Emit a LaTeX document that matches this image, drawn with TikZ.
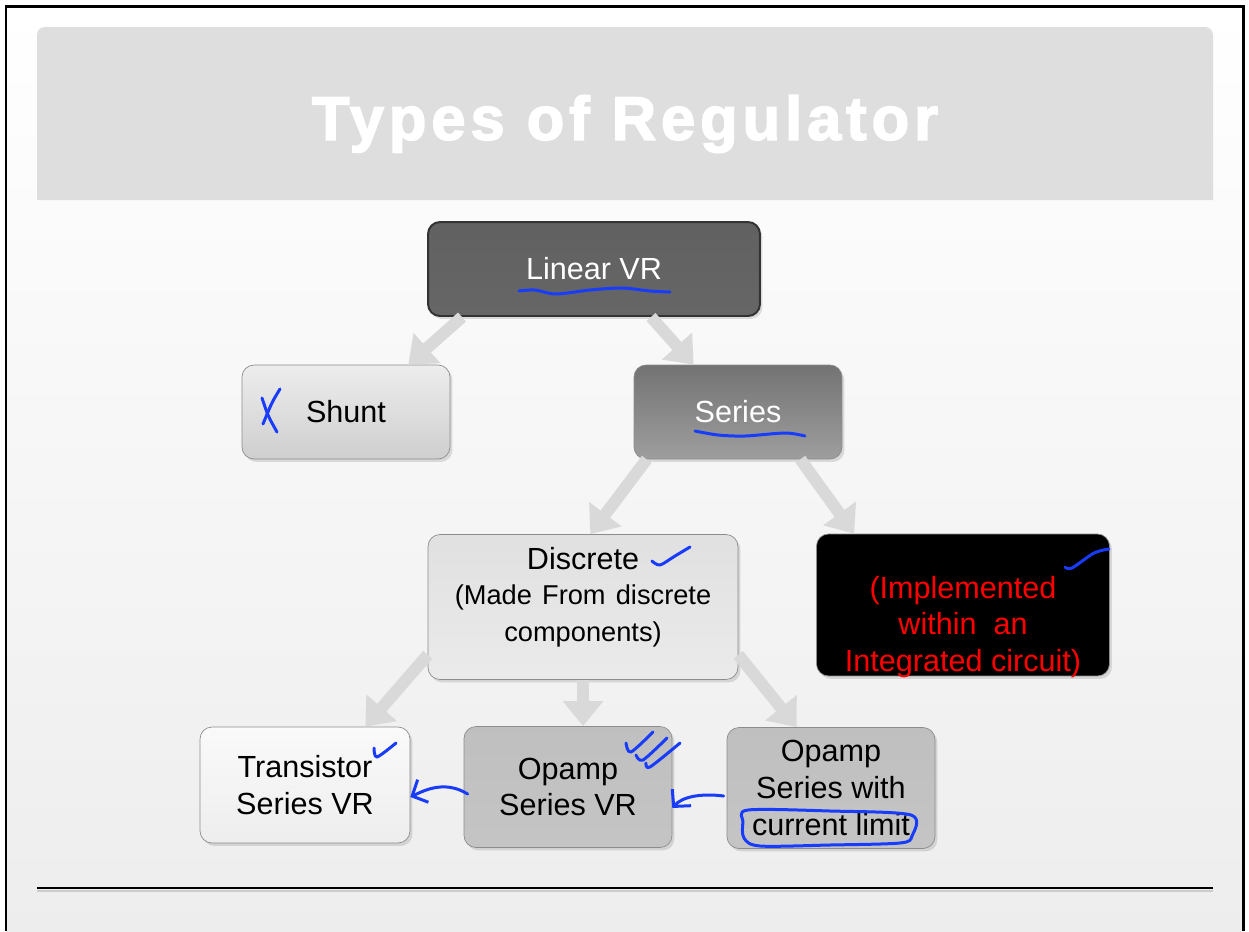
\documentclass[tikz,border=0pt]{standalone}
\usepackage{fontspec}
\setmainfont{Liberation Sans}
\newfontfamily\headfont[FakeBold=2.5,LetterSpace=8]{Liberation Sans Bold}
\usetikzlibrary{arrows.meta,shadows}
\definecolor{ink}{RGB}{25,60,250}
\definecolor{flowgray}{RGB}{217,217,217}
\begin{document}
\begin{tikzpicture}[x=0.02cm,y=-0.02cm,font=\fontsize{17.4}{21}\selectfont]
    \tikzset{
        box/.style={
            draw=black!45,
            rounded corners=0.24cm,
            minimum width=4.16cm,
            minimum height=1.88cm,
            align=center,
            drop shadow={opacity=0.25,shadow xshift=0.05cm,shadow yshift=-0.06cm}
        },
        lightbox/.style={box,top color=black!7,bottom color=black!19},
        darkbox/.style={box,top color=black!55,bottom color=black!38,text=white},
        greybox/.style={box,top color=black!25,middle color=black!15,bottom color=black!23},
        flow/.style={flowgray,line width=0.24cm,-{Triangle[length=0.5cm,width=0.78cm]}},
        pen/.style={ink,line width=0.06cm,line cap=round,line join=round}
    }

    \useasboundingbox (0,0) rectangle (1249,931);
    \shade[top color=white,bottom color=black!7] (6,6) rectangle (1243,931);
    \fill[black!13,rounded corners=0.16cm] (37,200) -- (37,27) -- (1213,27) -- (1213,200);
    \draw[line width=0.06cm] (6,931) -- (6,6) -- (1243,6) -- (1243,931);
    \draw[black!20,line width=0.04cm] (37,890.5) -- (1213,890.5);
    \draw[line width=0.04cm] (37,888) -- (1213,888);

    \node[text=white,font=\fontsize{35}{42}\headfont] (title) at (625,124)
        {Types of Regulator};

    \node[box,minimum width=6.64cm,draw=black!80,line width=0.04cm,
        top color=black!62,middle color=black!80,bottom color=black!60,text=white]
        (lin) at (594,269) {Linear VR};
    \node[lightbox] (shunt) at (346,412) {Shunt};
    \node[darkbox] (series) at (738,412) {Series};

    \node[lightbox,minimum width=6.2cm,minimum height=2.9cm,
        top color=black!12,bottom color=black!8] (disc) at (583,607) {};
    \node[align=center,text width=6cm] (disctext) at (583,597)
        {Discrete\par\fontsize{15.5}{19.8}\selectfont
         (Made From discrete\\components)};
    \node[box,fill=black,minimum width=5.86cm,minimum height=2.84cm] (ic) at (963,605) {};
    \node[align=center,text=red] (ictext) at (963,627)
        {(Implemented\\within\ \ an\\Integrated circuit)};

    \node[box,minimum width=4.2cm,minimum height=2.32cm,
        top color=black!2,bottom color=black!7] (trans) at (305,785)
        {Transistor\\Series VR};
    \node[greybox,minimum height=2.42cm] (opamp) at (568,787)
        {Opamp\\Series VR};
    \node[greybox,minimum height=2.42cm] (oplim) at (831,788)
        {Opamp\\Series with\\current limit};

    \draw[flow] ([xshift=0.7cm]lin.south west) -- ([xshift=-0.84cm]shunt.north east);
    \draw[flow] ([xshift=-2.2cm]lin.south east) -- ([xshift=1.2cm]series.north west);
    \draw[flow] ([xshift=0.26cm]series.south west) -- ([xshift=-2.96cm]disc.north east);
    \draw[flow] ([xshift=-0.84cm]series.south east) -- ([xshift=0.76cm]ic.north west);
    \draw[flow] ([yshift=0.5cm]disc.south west) -- ([xshift=-0.9cm]trans.north east);
    \draw[flow] (disc.south) -- (disc.south |- opamp.north);
    \draw[flow] ([yshift=0.5cm]disc.south east) -- ([xshift=1.4cm]oplim.north west);

    \draw[pen] plot[smooth] coordinates {(519,291) (535,290) (556,294) (590,290) (622,288) (650,291) (670,292)};
    \draw[pen] plot[smooth] coordinates {(695,431) (718,435) (745,436) (785,433) (805,436)};
    \draw[pen] (280,389) .. controls (272,402) .. (263,424);
    \draw[pen] (262,398) .. controls (268,416) .. (277,432);
    \draw[pen] plot[smooth] coordinates {(652,561) (660,565) (675,556) (690,547)};
    \draw[pen] plot[smooth] coordinates {(1065,567) (1072,568) (1094,553) (1109,549)};
    \draw[pen] plot[smooth] coordinates {(374,748) (377,757) (396,743)};
    \draw[pen] plot[smooth] coordinates {(626,743) (631,752) (653,732)};
    \draw[pen] plot[smooth] coordinates {(636,755) (643,760) (667,738)};
    \draw[pen] plot[smooth] coordinates {(646,763) (650,767) (680,743)};
    \draw[pen] plot[smooth cycle] coordinates {(748,810) (830,811) (911,815) (912,836) (900,843) (830,845) (760,846) (744,838) (743,822)};

    \draw[pen,-{Straight Barb[length=0.24cm,width=0.5cm]}]
        ([xshift=0.08cm,yshift=-0.14cm]opamp.west)
        .. controls (445,780) and (425,790) .. ([yshift=-0.24cm]trans.east);
    \draw[pen,-{Straight Barb[length=0.24cm,width=0.5cm]}]
        ([xshift=-0.06cm,yshift=-0.16cm]oplim.west)
        .. controls (700,793) and (682,797) .. ([yshift=-0.42cm]opamp.east);
\end{tikzpicture}
\end{document}
